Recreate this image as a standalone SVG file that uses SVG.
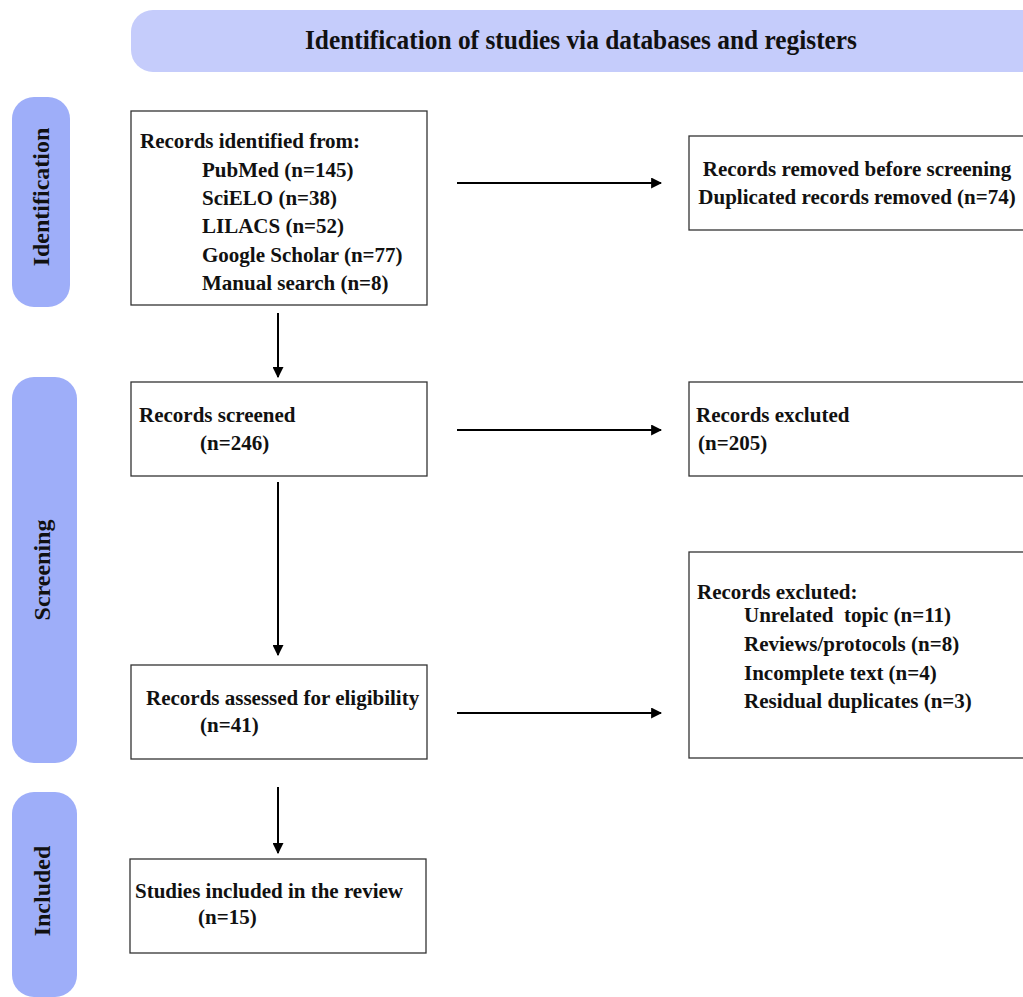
<svg xmlns="http://www.w3.org/2000/svg" width="1023" height="997" viewBox="0 0 1023 997">
<style>
text{font-family:"Liberation Serif","Times New Roman",serif;font-weight:bold;font-size:21px;fill:#111}
.box{fill:#fff;stroke:#333;stroke-width:1.3}
.side{fill:#9eaef9}
.head{fill:#c5ccfb}
.conn{stroke:#000;stroke-width:2;fill:none;marker-end:url(#ah)}
.lab{font-size:24px}
.title{font-size:28px}
</style>
<defs>
<marker id="ah" viewBox="0 0 10 10" refX="9" refY="5" markerWidth="5.5" markerHeight="5.5" orient="auto" markerUnits="strokeWidth">
<path d="M0,0 L10,5 L0,10 z" fill="#000"/>
</marker>
</defs>
<rect width="1023" height="997" fill="#fff"/>
<g id="header">
<rect class="head" x="131" y="10" width="920" height="62" rx="22"/>
<text class="title" x="581" y="49" text-anchor="middle" textLength="552" lengthAdjust="spacingAndGlyphs">Identification of studies via databases and registers</text>
</g>
<g id="stage-identification">
<rect class="side" x="12" y="97" width="58" height="210" rx="22"/>
<text class="lab" transform="translate(49,197) rotate(-90)" text-anchor="middle">Identification</text>
</g>
<g id="stage-screening">
<rect class="side" x="12" y="377" width="65" height="386" rx="22"/>
<text class="lab" transform="translate(50,570) rotate(-90)" text-anchor="middle">Screening</text>
</g>
<g id="stage-included">
<rect class="side" x="12" y="792" width="65" height="205" rx="22"/>
<text class="lab" transform="translate(50,891) rotate(-90)" text-anchor="middle">Included</text>
</g>
<g id="identified">
<rect class="box" x="131" y="111" width="296" height="194"/>
<text x="140" y="148">Records identified from:</text>
<text x="202" y="177">PubMed (n=145)</text>
<text x="202" y="205">SciELO (n=38)</text>
<text x="202" y="233">LILACS (n=52)</text>
<text x="202" y="262">Google Scholar (n=77)</text>
<text x="202" y="290">Manual search (n=8)</text>
</g>
<g id="removed">
<rect class="box" x="689" y="136" width="345" height="94"/>
<text x="857" y="176" text-anchor="middle">Records removed before screening</text>
<text x="857" y="204" text-anchor="middle">Duplicated records removed (n=74)</text>
</g>
<g id="screened">
<rect class="box" x="131" y="382" width="296" height="94"/>
<text x="139" y="422">Records screened</text>
<text x="200" y="450">(n=246)</text>
</g>
<g id="excluded1">
<rect class="box" x="689" y="382" width="345" height="94"/>
<text x="696" y="422">Records excluted</text>
<text x="698" y="450">(n=205)</text>
</g>
<g id="eligibility">
<rect class="box" x="131" y="665" width="296" height="94"/>
<text x="146" y="705">Records assessed for eligibility</text>
<text x="200" y="732">(n=41)</text>
</g>
<g id="excluded2">
<rect class="box" x="689" y="552" width="345" height="206"/>
<text x="697" y="599">Records excluted:</text>
<text x="744" y="622" xml:space="preserve">Unrelated  topic (n=11)</text>
<text x="744" y="651">Reviews/protocols (n=8)</text>
<text x="744" y="680">Incomplete text (n=4)</text>
<text x="744" y="708">Residual duplicates (n=3)</text>
</g>
<g id="included">
<rect class="box" x="130" y="859" width="296" height="94"/>
<text x="135" y="898">Studies included in the review</text>
<text x="198" y="924">(n=15)</text>
</g>
<g id="connectors">
<path class="conn" d="M457,183 H661"/>
<path class="conn" d="M278,313 V377"/>
<path class="conn" d="M457,430 H661"/>
<path class="conn" d="M278,482 V655"/>
<path class="conn" d="M457,713 H661"/>
<path class="conn" d="M278,787 V853"/>
</g>
</svg>
